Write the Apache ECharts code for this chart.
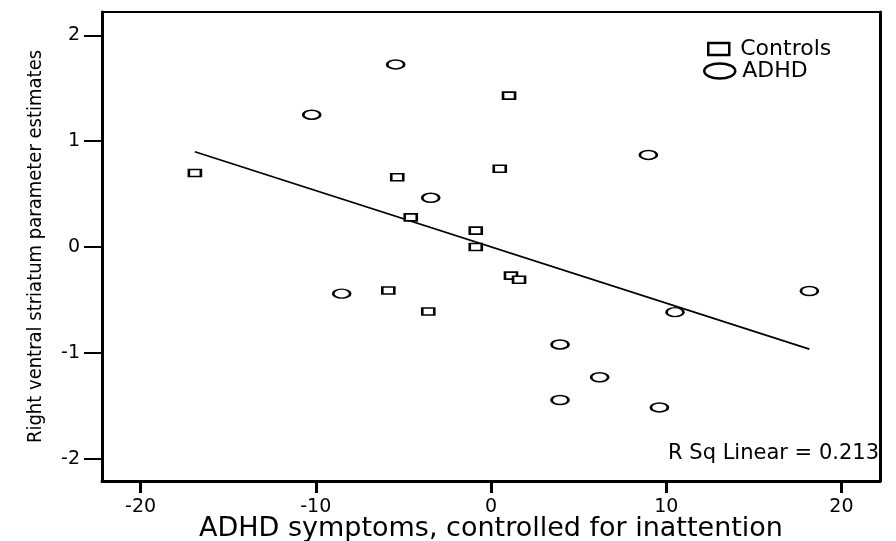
<!DOCTYPE html>
<html>
<head>
<meta charset="utf-8">
<script src="https://cdn.jsdelivr.net/npm/echarts@6/dist/echarts.min.js"></script>
<style>
  html, body { margin: 0; padding: 0; background: #fff; }
  #chart { width: 896px; height: 541px; }
</style>
</head>
<body>
<div id="chart"></div>
<script>
const controlsX = [-16.9, -5.35, 1.03, 0.5, -4.58, -0.87, -0.87, 1.14, 1.6, -5.86, -3.58];
const controlsY = [0.70, 0.66, 1.43, 0.74, 0.28, 0.155, 0.0, -0.27, -0.31, -0.41, -0.61];
const adhdX = [-5.44, -10.23, -3.44, 8.98, -8.52, 3.94, 3.94, 6.2, 18.17, 10.5, 9.61];
const adhdY = [1.725, 1.25, 0.465, 0.87, -0.44, -0.92, -1.445, -1.23, -0.415, -0.615, -1.515];
const fitX = [-16.9, 18.17];
const fitY = [0.90, -0.965];
const xTicks = [-20, -10, 0, 10, 20];
const yTicks = [-2, -1, 0, 1, 2];

const zip = (xs, ys) => xs.map((x, i) => [x, ys[i]]);
const font = 'DejaVu Sans';
const narrow = "'DejaVu Sans Condensed', 'Liberation Sans Narrow', 'Liberation Sans', sans-serif";
const ellipse = 'path://M0,5A10,5 0 1,0 20,5A10,5 0 1,0 0,5Z';

const chart = echarts.init(document.getElementById('chart'));
chart.setOption({
    animation: false,
    backgroundColor: '#fff',
    grid: {
        left: 102, right: 16, top: 12, bottom: 60, outerBoundsMode: 'none',
        show: true, borderColor: '#000', borderWidth: 2
    },
    title: {
        text: 'R Sq Linear = 0.213', right: 17, top: 443, padding: 0,
        textStyle: { fontFamily: font, fontSize: 21, fontWeight: 'normal', color: '#000' }
    },
    legend: [{
        data: ['Controls'], left: 707, top: 38, padding: 0,
        itemWidth: 21, itemHeight: 12, symbolKeepAspect: false,
        itemStyle: { color: '#fff', borderColor: '#000', borderWidth: 2.5 },
        textStyle: { fontFamily: font, fontSize: 22, color: '#000', padding: [0, 0, 0, 6] }
    }, {
        data: [{ name: 'ADHD', icon: ellipse }], left: 703, top: 60, padding: 0,
        itemWidth: 31, itemHeight: 15, symbolKeepAspect: false,
        itemStyle: { color: '#fff', borderColor: '#000', borderWidth: 2.5 },
        textStyle: { fontFamily: font, fontSize: 22, color: '#000', padding: [0, 0, 0, 2] }
    }],
    xAxis: {
        type: 'value', min: -22.2, max: 22.2,
        name: 'ADHD symptoms, controlled for inattention',
        nameLocation: 'middle', nameGap: 34, nameMoveOverlap: false,
        nameTextStyle: { fontFamily: font, fontSize: 27, color: '#000' },
        splitLine: { show: false },
        axisLine: { onZero: false, lineStyle: { color: '#000', width: 3 } },
        axisTick: { customValues: xTicks, length: 12, lineStyle: { color: '#000', width: 3 } },
        axisLabel: { customValues: xTicks, margin: 17, fontFamily: font, fontSize: 19, color: '#000' }
    },
    yAxis: [{
        type: 'value', min: -2.21, max: 2.22,
        name: 'Right ventral striatum parameter estimates',
        nameLocation: 'middle', nameGap: 56, nameMoveOverlap: false,
        nameTextStyle: { fontFamily: narrow, fontSize: 20, color: '#000' },
        splitLine: { show: false },
        axisLine: { onZero: false, lineStyle: { color: '#000', width: 3 } },
        axisTick: { customValues: yTicks, length: 18, lineStyle: { color: '#000', width: 2 } },
        axisLabel: { customValues: yTicks, margin: 22, fontFamily: font, fontSize: 19, color: '#000' }
    }, {
        type: 'value', min: -2.21, max: 2.22, position: 'right',
        splitLine: { show: false },
        axisLine: { show: true, onZero: false, lineStyle: { color: '#000', width: 3 } },
        axisTick: { show: false }, axisLabel: { show: false }
    }],
    series: [{
        name: 'Controls', type: 'scatter', symbol: 'rect', symbolSize: [12, 7],
        data: zip(controlsX, controlsY),
        itemStyle: { color: '#fff', borderColor: '#000', borderWidth: 2, opacity: 1 }
    }, {
        name: 'ADHD', type: 'scatter', symbol: 'circle', symbolSize: [17, 9],
        data: zip(adhdX, adhdY),
        itemStyle: { color: '#fff', borderColor: '#000', borderWidth: 2, opacity: 1 }
    }, {
        name: 'Fit', type: 'line', data: zip(fitX, fitY), symbol: 'none',
        lineStyle: { color: '#000', width: 1.8 }, z: 1
    }]
});
</script>
</body>
</html>
